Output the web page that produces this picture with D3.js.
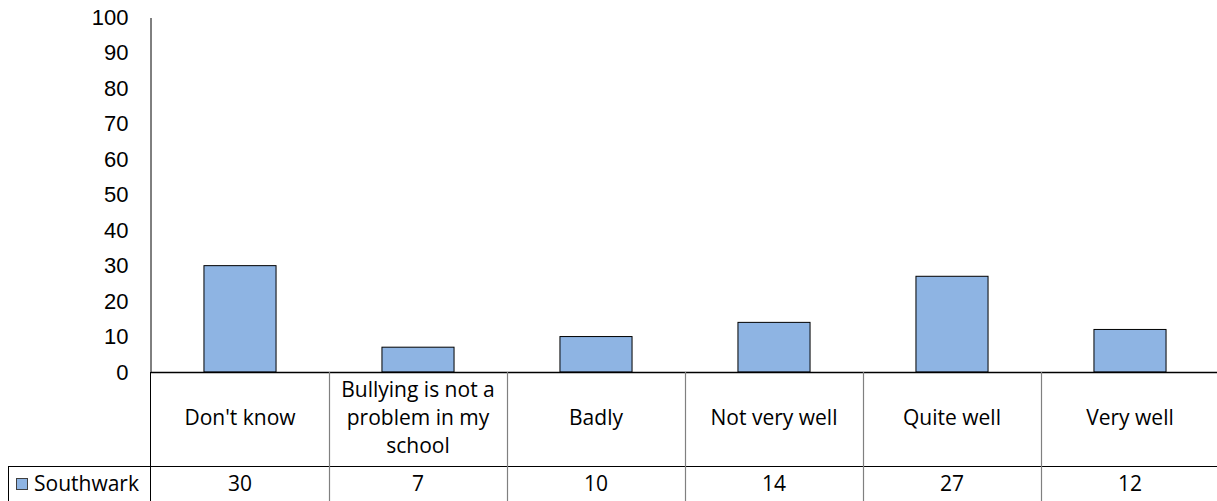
<!DOCTYPE html>
<html>
<head>
<meta charset="utf-8">
<script src="https://cdn.jsdelivr.net/npm/d3@7"></script>
<style>
  html, body { margin: 0; padding: 0; background: #fff; }
  svg { display: block; font-family: "Open Sans", "Lato", sans-serif; }
</style>
</head>
<body>
<svg id="chart" width="1217" height="501"></svg>
<script>
// Survey responses for Southwark (percent)
const categories = ["Don't know", "Bullying is not a problem in my school", "Badly", "Not very well", "Quite well", "Very well"];
const categoryLines = [["Don't know"], ["Bullying is not a", "problem in my", "school"], ["Badly"], ["Not very well"], ["Quite well"], ["Very well"]];
const seriesName = "Southwark";
const values = [30, 7, 10, 14, 27, 12];
const yTicks = [0, 10, 20, 30, 40, 50, 60, 70, 80, 90, 100];

const svg = d3.select("#chart");
const plotLeft = 151, plotRight = 1219, plotTop = 17.5, baseY = 372;
const headerBottom = 466, tableBottom = 501, legendLeft = 8.5;
const fontSize = 21;

const x = d3.scaleBand().domain(categories).range([plotLeft, plotRight]).paddingInner(0).paddingOuter(0);
const y = d3.scaleLinear().domain([0, 100]).range([baseY, plotTop]);

// y axis
const yAxis = d3.axisLeft(y).tickValues(yTicks).tickSize(0).tickPadding(22);
const gy = svg.append("g").attr("transform", `translate(${plotLeft - 0.5},0)`).call(yAxis);
gy.select(".domain").attr("stroke", "#000").attr("stroke-width", 1);
gy.selectAll("text").attr("font-size", 22).attr("fill", "#000").attr("font-family", null);

// bars
const barW = x.bandwidth() * 0.405;
svg.append("g").selectAll("rect").data(values).join("rect")
  .attr("x", (d, i) => x(categories[i]) + (x.bandwidth() - barW) / 2)
  .attr("y", d => y(d))
  .attr("width", barW)
  .attr("height", d => baseY - y(d))
  .attr("fill", "#8EB4E3")
  .attr("stroke", "#000")
  .attr("stroke-width", 1);

// data table grid
const grid = svg.append("g");
grid.append("line").attr("x1", plotLeft).attr("x2", plotRight).attr("y1", baseY + 0.5).attr("y2", baseY + 0.5)
  .attr("stroke", "#000").attr("stroke-width", 1.5);
grid.append("line").attr("x1", legendLeft).attr("x2", plotRight).attr("y1", headerBottom + 0.5).attr("y2", headerBottom + 0.5)
  .attr("stroke", "#000").attr("stroke-width", 1);
grid.append("line").attr("x1", legendLeft).attr("x2", legendLeft).attr("y1", headerBottom).attr("y2", tableBottom)
  .attr("stroke", "#000").attr("stroke-width", 1);
grid.append("line").attr("x1", plotLeft - 0.5).attr("x2", plotLeft - 0.5).attr("y1", baseY).attr("y2", tableBottom)
  .attr("stroke", "#000").attr("stroke-width", 1);
grid.selectAll("line.sep").data(categories.slice(1)).join("line").attr("class", "sep")
  .attr("x1", d => x(d) + 0.5).attr("x2", d => x(d) + 0.5)
  .attr("y1", baseY).attr("y2", tableBottom)
  .attr("stroke", "#808080").attr("stroke-width", 1.2);

// category labels
const catG = svg.append("g").attr("font-size", fontSize).attr("fill", "#000").attr("text-anchor", "middle");
categoryLines.forEach((lines, i) => {
  const cx = x(categories[i]) + x.bandwidth() / 2;
  const lh = 28;
  const midY = (baseY + headerBottom) / 2;
  lines.forEach((ln, j) => {
    catG.append("text").attr("x", cx)
      .attr("y", midY + (j - (lines.length - 1) / 2) * lh - 1)
      .attr("dy", "0.35em").text(ln);
  });
});

// value row
const rowY = (headerBottom + tableBottom) / 2 + 0.5;
svg.append("g").attr("font-size", fontSize).attr("text-anchor", "middle").selectAll("text").data(values).join("text")
  .attr("x", (d, i) => x(categories[i]) + x.bandwidth() / 2)
  .attr("y", rowY).attr("dy", "0.35em").text(d => d);

// legend key
svg.append("rect").attr("x", 16.5).attr("y", 478.5).attr("width", 11).attr("height", 11)
  .attr("fill", "#8EB4E3").attr("stroke", "#404040").attr("stroke-width", 1);
svg.append("text").attr("x", 34).attr("y", rowY).attr("dy", "0.35em").attr("font-size", fontSize).text(seriesName);
</script>
</body>
</html>
